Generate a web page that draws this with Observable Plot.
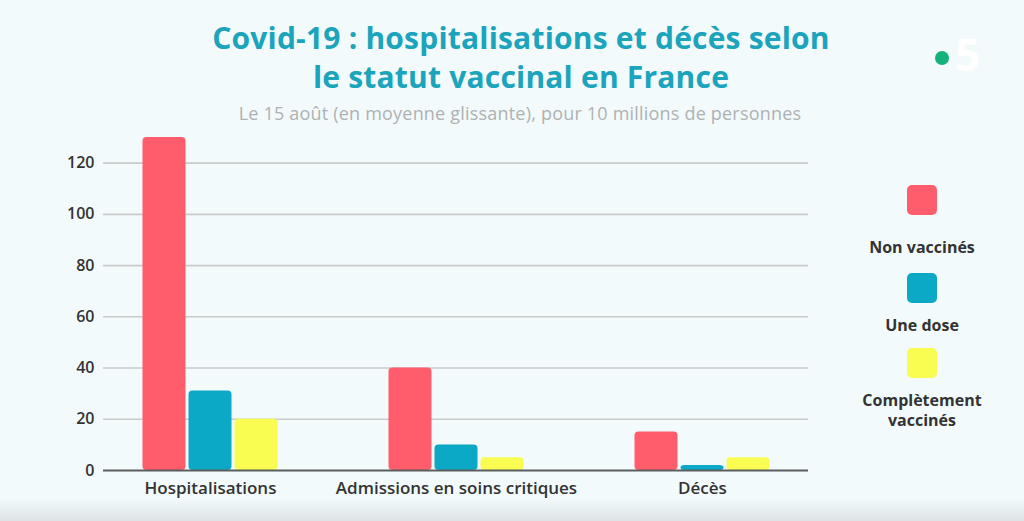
<!DOCTYPE html>
<html>
<head>
<meta charset="utf-8">
<script src="https://cdn.jsdelivr.net/npm/d3@7"></script>
<script src="https://cdn.jsdelivr.net/npm/@observablehq/plot@0.6"></script>
<style>
  html, body { margin: 0; padding: 0; background: #f2fafb; }
  #wrap { position: relative; width: 1024px; height: 521px; overflow: hidden; background: #f2fafb; font-family: "Open Sans", Lato, sans-serif; }
  .title { position: absolute; left: 0; width: 1042px; text-align: center; color: #1ba4bb; font-weight: 700; font-size: 30px; line-height: 39px; top: 18px; letter-spacing: 0.2px; }
  .subtitle { position: absolute; left: 0; width: 1040px; text-align: center; color: #aeb2b3; font-size: 18px; top: 101px; letter-spacing: 0.2px; }
  #chart { position: absolute; left: 0; top: 130px; }
  #legend { position: absolute; left: 842px; top: 185px; width: 160px; text-align: center; color: #333; font-weight: 700; font-size: 16px; }
  .sw { width: 30px; height: 30px; border-radius: 5px; margin: 0 auto; }
  .lab { line-height: 20px; }
  .logo-dot { position: absolute; left: 935px; top: 51px; width: 14px; height: 14px; border-radius: 50%; background: #12b27a; }
  .logo-five { position: absolute; left: 955px; top: 24px; color: #ffffff; font-size: 44px; font-weight: 700; }
  .shade { position: absolute; left: 0; top: 498px; width: 1024px; height: 23px; background: linear-gradient(#f2fafb00, #dde3e4); }
  #chart svg [aria-label^="x-axis"] text { font-size: 17px; font-weight: 600; }
  #chart svg [aria-label^="y-axis"] text { font-size: 16px; font-weight: 600; }
</style>
</head>
<body>
<div id="wrap">
  <div class="title">Covid-19 : hospitalisations et décès selon<br>le statut vaccinal en France</div>
  <div class="subtitle">Le 15 août (en moyenne glissante), pour 10 millions de personnes</div>
  <div class="logo-dot"></div>
  <div class="logo-five">5</div>
  <div id="chart"></div>
  <div id="legend"></div>
  <div class="shade"></div>
</div>
<script>
const categories = ["Hospitalisations", "Admissions en soins critiques", "Décès"];
const series = ["Non vaccinés", "Une dose", "Complètement vaccinés"];
const colors = ["#ff5d6c", "#0ba9c5", "#f9fd52"];
const nonVaccines = [130, 40, 15];
const uneDose = [31, 10, 2];
const completement = [20, 5, 5];
const yTicks = [0, 20, 40, 60, 80, 100, 120];

const valuesBySeries = [nonVaccines, uneDose, completement];
const data = [];
series.forEach((s, i) => categories.forEach((c, j) => data.push({category: c, series: s, value: valuesBySeries[i][j]})));

const barW = 43, gap = 3, step = barW + gap, band = 246;
const inset = (band - barW) / 2;

const barMarks = series.map((s, i) => Plot.barY(data.filter(d => d.series === s), {
  x: "category", y: "value", fill: colors[i], dx: (i - 1) * step,
  insetLeft: inset, insetRight: inset, rx: 4
}));

const chart = Plot.plot({
  width: 840,
  height: 380,
  marginTop: 7,
  marginBottom: 40,
  marginLeft: 103,
  marginRight: 32,
  style: { background: "transparent", fontFamily: "'Open Sans', Lato, sans-serif", fontSize: "16px", color: "#333" },
  x: { domain: categories, range: [87, 825], padding: 0, label: null, tickSize: 0, tickPadding: 11 },
  y: { domain: [0, 130], ticks: yTicks, label: null, tickSize: 0, tickPadding: 9 },
  marks: [
    Plot.ruleY(yTicks.filter(t => t > 0), { stroke: "#c9cbcb", strokeWidth: 1.6 }),
    ...barMarks,
    Plot.ruleY([0], { stroke: "#5a5d5e", strokeWidth: 2 })
  ]
});
document.getElementById("chart").appendChild(chart);

const legend = document.getElementById("legend");
const labelsHtml = ["Non vaccinés", "Une dose", "Complètement<br>vaccinés"];
const swGaps = ["0px", "16px", "13px"];
const labGaps = ["22px", "12px", "12px"];
series.forEach((s, i) => {
  const sw = document.createElement("div");
  sw.className = "sw";
  sw.style.background = colors[i];
  sw.style.marginTop = swGaps[i];
  legend.appendChild(sw);
  const lab = document.createElement("div");
  lab.className = "lab";
  lab.style.marginTop = labGaps[i];
  lab.innerHTML = labelsHtml[i];
  legend.appendChild(lab);
});
</script>
</body>
</html>
